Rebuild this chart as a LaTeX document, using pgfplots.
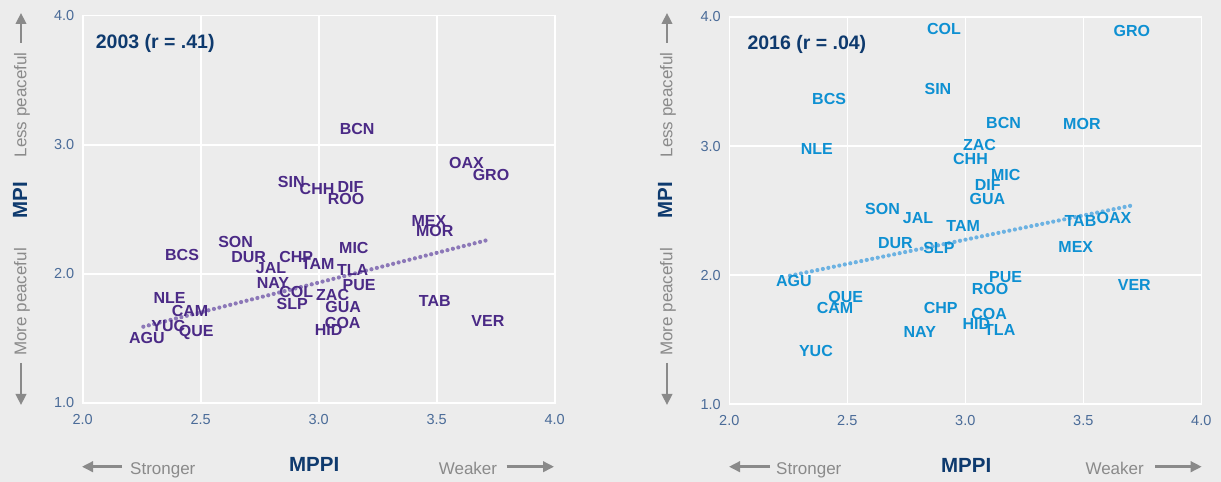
\documentclass[border=0pt]{standalone}
\usepackage{fontspec}
\setmainfont{Liberation Sans}
\usepackage{pgfplots}
\usepackage{pgfplotstable}
\pgfplotsset{compat=1.18}
\usetikzlibrary{arrows.meta}
\definecolor{bg}{HTML}{ECECEC}
\definecolor{navy}{HTML}{0E3A6E}
\definecolor{tickc}{HTML}{4A6B98}
\definecolor{grayt}{HTML}{8A8A8A}
\definecolor{purp}{HTML}{4B2A86}
\definecolor{purpdot}{HTML}{8C78B8}
\definecolor{blu}{HTML}{0E90D2}
\definecolor{bludot}{HTML}{6CB2E2}

\pgfplotstableread{
x y label
3.163 3.120 BCN
3.626 2.857 OAX
3.730 2.764 GRO
2.884 2.712 SIN
2.993 2.655 CHH
3.135 2.671 DIF
3.116 2.578 ROO
3.467 2.410 MEX
3.492 2.330 MOR
2.648 2.245 SON
3.149 2.198 MIC
2.421 2.144 BCS
2.703 2.129 DUR
2.905 2.129 CHP
2.798 2.043 JAL
2.996 2.077 TAM
3.144 2.030 TLA
2.806 1.932 NAY
3.171 1.912 PUE
2.905 1.860 COL
3.059 1.837 ZAC
2.368 1.811 NLE
2.888 1.767 SLP
3.104 1.744 GUA
3.492 1.790 TAB
2.455 1.710 CAM
2.363 1.596 YUC
3.102 1.617 COA
3.717 1.635 VER
2.481 1.550 QUE
3.042 1.565 HID
2.272 1.501 AGU
}\dataA

\pgfplotstableread{
x y label
2.910 3.907 COL
3.706 3.894 GRO
2.884 3.442 SIN
2.423 3.365 BCS
3.162 3.179 BCN
3.494 3.171 MOR
3.060 3.005 ZAC
2.371 2.978 NLE
3.022 2.900 CHH
3.171 2.778 MIC
3.095 2.701 DIF
3.094 2.590 GUA
2.649 2.513 SON
2.800 2.440 JAL
2.991 2.381 TAM
3.488 2.420 TAB
3.630 2.443 OAX
2.704 2.249 DUR
3.468 2.221 MEX
2.888 2.211 SLP
2.274 1.957 AGU
3.171 1.983 PUE
3.716 1.924 VER
3.105 1.895 ROO
2.493 1.823 QUE
2.448 1.746 CAM
2.896 1.748 CHP
3.101 1.696 COA
3.047 1.624 HID
3.146 1.575 TLA
2.807 1.560 NAY
2.367 1.415 YUC
}\dataB

\pgfplotsset{
  panel/.style={
    scale only axis, width=472bp, height=387.3bp,
    xmin=2, xmax=4, ymin=1, ymax=4,
    xtick={2,2.5,3,3.5,4}, ytick={1,2,3,4},
    grid=major, major grid style={white, line width=1.6bp},
    axis line style={white, line width=1.6bp},
    major tick length=0pt,
    tick label style={font=\fontsize{14.5bp}{16bp}\selectfont, text=tickc},
    xticklabel={\pgfmathprintnumber[fixed,fixed zerofill,precision=1,assume math mode=true]{\tick}},
    yticklabel={\pgfmathprintnumber[fixed,fixed zerofill,precision=1,assume math mode=true]{\tick}},
    xticklabel style={yshift=-8bp},
    yticklabel style={xshift=-5bp},
    clip=false,
  },
  labs/.style={draw=none, mark=none, nodes near coords, point meta=explicit symbolic,
    nodes near coords align=center,
    nodes near coords style={anchor=center, inner sep=0pt, text=#1,
      font=\bfseries\fontsize{16bp}{18bp}\selectfont}},
  trend/.style={#1, line width=4.2bp, line cap=round, dash pattern=on 0bp off 5.6bp},
}
\tikzset{garr/.style={grayt, line width=2.4bp, -{Triangle[length=11bp,width=10.5bp]}}}

\begin{document}
\begin{tikzpicture}
\useasboundingbox (0,0) rectangle (1221bp,482bp);
\fill[bg] (0,0) rectangle (1221bp,482bp);

% Panel 1
\begin{axis}[panel, at={(82.7bp,79bp)}, anchor=south west]
\addplot[trend=purpdot] coordinates {(2.257,1.591) (3.717,2.263)};
\addplot[labs=purp] table[x=x,y=y,meta=label]{\dataA};
\end{axis}

% Panel 2
\begin{axis}[panel, at={(729.3bp,77.7bp)}, anchor=south west]
\addplot[trend=bludot] coordinates {(2.257,1.996) (3.708,2.541)};
\addplot[labs=blu] table[x=x,y=y,meta=label]{\dataB};
\end{axis}

% titles
\node[anchor=base west, text=navy, font=\bfseries\fontsize{19.5bp}{22bp}\selectfont, inner sep=0pt] at (95.7bp,433.7bp) {2003 (r = .41)};
\node[anchor=base west, text=navy, font=\bfseries\fontsize{19.5bp}{22bp}\selectfont, inner sep=0pt] at (747.3bp,432.7bp) {2016 (r = .04)};

% vertical annotations
\foreach \xo/\xm in {21/20, 667/665} {
  \draw[garr] (\xo bp,439bp) -- (\xo bp,469bp);
  \node[rotate=90, text=grayt, font=\fontsize{17bp}{19bp}\selectfont, inner sep=0pt] at (\xo bp+1bp,377bp) {Less peaceful};
  \node[rotate=90, text=navy, font=\bfseries\fontsize{20.5bp}{22bp}\selectfont, inner sep=0pt] at (\xm bp,282bp) {MPI};
  \node[rotate=90, text=grayt, font=\fontsize{17bp}{19bp}\selectfont, inner sep=0pt] at (\xo bp+1bp,180bp) {More peaceful};
  \draw[garr] (\xo bp,119bp) -- (\xo bp,77bp);
}

% horizontal annotations
\draw[garr] (122bp,15.3bp) -- (82bp,15.3bp);
\node[anchor=base west, text=grayt, font=\fontsize{17bp}{19bp}\selectfont, inner sep=0pt] at (130bp,7.7bp) {Stronger};
\node[text=navy, font=\bfseries\fontsize{20.5bp}{22bp}\selectfont, inner sep=0pt] at (314.2bp,17.3bp) {MPPI};
\node[anchor=base east, text=grayt, font=\fontsize{17bp}{19bp}\selectfont, inner sep=0pt] at (497.3bp,7.7bp) {Weaker};
\draw[garr] (506.7bp,15.3bp) -- (554bp,15.3bp);

\draw[garr] (770bp,15.3bp) -- (729bp,15.3bp);
\node[anchor=base west, text=grayt, font=\fontsize{17bp}{19bp}\selectfont, inner sep=0pt] at (776bp,7.7bp) {Stronger};
\node[text=navy, font=\bfseries\fontsize{20.5bp}{22bp}\selectfont, inner sep=0pt] at (966.2bp,16.3bp) {MPPI};
\node[anchor=base east, text=grayt, font=\fontsize{17bp}{19bp}\selectfont, inner sep=0pt] at (1144bp,7.7bp) {Weaker};
\draw[garr] (1155bp,15.3bp) -- (1201.7bp,15.3bp);
\end{tikzpicture}
\end{document}
